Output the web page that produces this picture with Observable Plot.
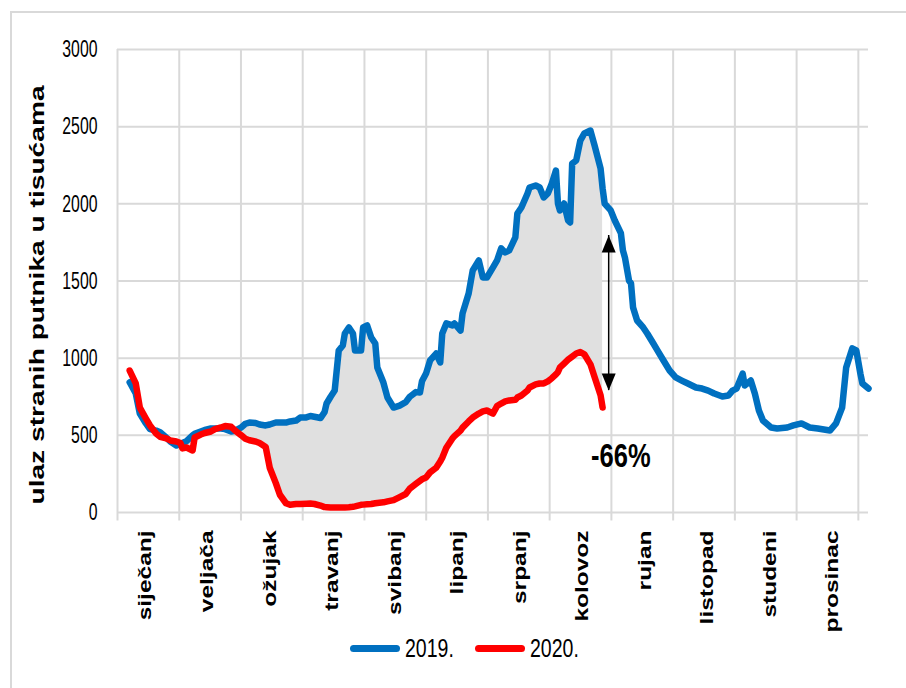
<!DOCTYPE html>
<html>
<head>
<meta charset="utf-8">
<script src="https://cdn.jsdelivr.net/npm/d3@7"></script>
<script src="https://cdn.jsdelivr.net/npm/@observablehq/plot@0.6"></script>
<style>
html,body{margin:0;padding:0;background:#fff;}
#wrap{position:relative;width:906px;height:688px;overflow:hidden;font-family:"Liberation Sans",Arial,sans-serif;}
#frame{position:absolute;left:10px;top:11px;width:1000px;height:1000px;border:2px solid #d9d9d9;box-sizing:border-box;}
#chart{position:absolute;left:0;top:0;}
.item{position:absolute;top:634px;height:28px;display:flex;align-items:center;}
.sw{width:50px;height:7px;border-radius:4px;}
.lab{font-size:25px;transform:scaleX(0.78);transform-origin:left center;margin-left:5px;color:#000;white-space:nowrap;}
</style>
</head>
<body>
<div id="wrap">
  <div id="frame"></div>
  <div id="chart"></div>
  <div class="item" style="left:350px"><div class="sw" style="background:#0070c0"></div><div class="lab">2019.</div></div>
  <div class="item" style="left:475px"><div class="sw" style="background:#ff0000"></div><div class="lab">2020.</div></div>
</div>
<script>
// ---- data (day index within the year) ----
const months = ["siječanj","veljača","ožujak","travanj","svibanj","lipanj","srpanj","kolovoz","rujan","listopad","studeni","prosinac"];
const yTicks = [0, 500, 1000, 1500, 2000, 2500, 3000];
const yTitle = "ulaz stranih putnika u tisućama";

const days = [6,9,11,14,16,19,21,24,26,29,31,32,34,37,38,41,43,46,48,51,53,56,58,61,63,65,68,70,73,75,78,80,83,85,88,90,93,95,97,100,
  102,103,105,107,109,111,112,114,116,117,120,121,123,125,127,128,131,133,136,139,142,144,147,149,150,152,154,157,159,160,162,165,166,169,170,
  173,175,178,180,182,185,187,189,191,193,196,197,199,202,203,206,208,210,212,214,216,217,218,220,222,223,224,226,228,230,233,235,238,239,
  240,243,245,248,249,250,252,253,254,256,259,261,264,266,269,272,275,278,281,285,288,291,294,298,301,303,305,308,309,312,314,316,318,322,325,
  330,333,337,341,345,351,354,357,359,362,364,366,367,370];

const pax2019 = [844,771,641,577,540,531,520,486,460,434,447,450,462,500,510,525,535,544,544,544,540,525,530,551,575,583,580,570,564,570,583,583,583,590,596,615,616,625,620,612,
  650,706,750,790,1050,1082,1160,1199,1160,1050,1050,1199,1212,1134,1095,940,842,745,680,693,715,750,780,777,850,900,985,1030,972,1160,1225,1212,1225,1179,1290,
  1419,1568,1633,1523,1523,1588,1633,1711,1685,1698,1782,1937,1976,2067,2106,2119,2106,2041,2067,2132,2216,2002,1957,2002,1892,1879,2261,2281,2410,2456,2475,2380,2229,2100,
  2002,1957,1892,1810,1698,1652,1503,1484,1328,1244,1199,1160,1095,1050,985,920,875,855,836,810,803,790,771,752,758,790,803,900,823,855,771,661,596,551,544,
  551,564,577,551,544,531,577,680,940,1063,1050,900,836,803];

const pax2020 = [920,836,680,609,564,512,490,480,467,460,450,415,421,402,486,505,515,525,540,551,560,555,530,500,478,468,460,450,425,290,190,115,60,50,55,55,57,58,55,45,
  35,34,32,32,32,32,32,34,37,40,50,51,53,55,60,62,66,72,80,100,120,155,185,205,215,227,260,290,330,355,420,480,495,531,550,
  590,615,641,655,661,641,690,706,720,726,730,745,758,790,810,830,836,836,850,870,895,910,940,965,990,1000,1010,1030,1040,1025,960,880,760,680];

// annotation: gap between the two years at the end of the 2020 series
const arrowDay = [242];
const arrowLow = [790];
const arrowHigh = [1795];
const pctLabel = ["-66%"];
const pctDay = [248];
const pctValue = [363];

// ---- chart ----
const monthLen = 365 / 12;
const bounds = d3.range(13).map(i => i * monthLen);
const rows = days.map((d, i) => ({day: d, v19: pax2019[i], v20: i < pax2020.length ? pax2020[i] : null}));
const overlap = rows.filter(r => r.v20 != null);
const arrows = arrowDay.map((d, i) => ({day: d, lo: arrowLow[i], hi: arrowHigh[i]}));
const pct = pctLabel.map((t, i) => ({t, day: pctDay[i], v: pctValue[i]}));

const chart = Plot.plot({
  width: 906, height: 688,
  marginLeft: 117, marginRight: 38, marginTop: 49, marginBottom: 176,
  x: {domain: [0, 370], axis: null},
  y: {domain: [0, 3000], axis: null},
  style: {fontFamily: "'Liberation Sans', Arial, sans-serif", background: "transparent", overflow: "visible", color: "#000"},
  marks: [
    Plot.ruleY(yTicks, {stroke: "#d9d9d9", strokeWidth: 2}),
    Plot.ruleX(bounds, {y1: -55, y2: 3000, stroke: "#d9d9d9", strokeWidth: 2}),
    Plot.areaY(overlap, {x: "day", y1: "v20", y2: r => Math.max(r.v19, r.v20), fill: "#e0e0e0"}),
    Plot.line(rows, {x: "day", y: "v19", stroke: "#0070c0", strokeWidth: 6.5, strokeLinejoin: "round", strokeLinecap: "round"}),
    Plot.line(overlap, {x: "day", y: "v20", stroke: "#ff0000", strokeWidth: 6.5, strokeLinejoin: "round", strokeLinecap: "round"}),
    Plot.ruleX(arrows, {x: "day", y1: "lo", y2: "hi", stroke: "#000", strokeWidth: 1.5}),
    Plot.vector(arrows, {x: "day", y: "hi", length: 17, rotate: 0, shape: "spike", r: 7, anchor: "end", fill: "#000", stroke: "none"}),
    Plot.vector(arrows, {x: "day", y: "lo", length: 17, rotate: 180, shape: "spike", r: 7, anchor: "end", fill: "#000", stroke: "none"}),
    Plot.text(pct, {x: "day", y: "v", text: "t", fontSize: 34, fontWeight: "bold", fill: "#000"}),
    Plot.axisY(yTicks, {tickSize: 0, tickPadding: 20, fontSize: 24, label: null, tickFormat: d => String(d)}),
    Plot.text(months, {x: (d, i) => 16.3 + 30.8 * i, text: d => d, frameAnchor: "bottom", dy: 18, rotate: -90, textAnchor: "end", fontSize: 18, fontWeight: "bold", fill: "#000"}),
    Plot.text([yTitle], {text: d => d, frameAnchor: "left", dx: -80, dy: 14, rotate: -90, textAnchor: "middle", fontSize: 21, fontWeight: "bold", fill: "#000"})
  ]
});
document.getElementById("chart").appendChild(chart);

// emulate the horizontally compressed look of the reference text (scale along reading direction)
function squishAll() {
  d3.select(chart).selectAll("text").each(function() {
    const s0 = this.textContent;
    let s = null;
    if (/^\d+$/.test(s0)) s = 0.66;
    else if (s0 === pctLabel[0]) s = 0.75;
    else if (months.includes(s0)) s = 1.36;
    else if (s0 === yTitle) s = 1.34;
    if (s == null) return;
    const len = this.getComputedTextLength();
    if (len > 0) {
      this.setAttribute("textLength", (len * s).toFixed(1));
      this.setAttribute("lengthAdjust", "spacingAndGlyphs");
    }
  });
}
squishAll();
</script>
</body>
</html>
